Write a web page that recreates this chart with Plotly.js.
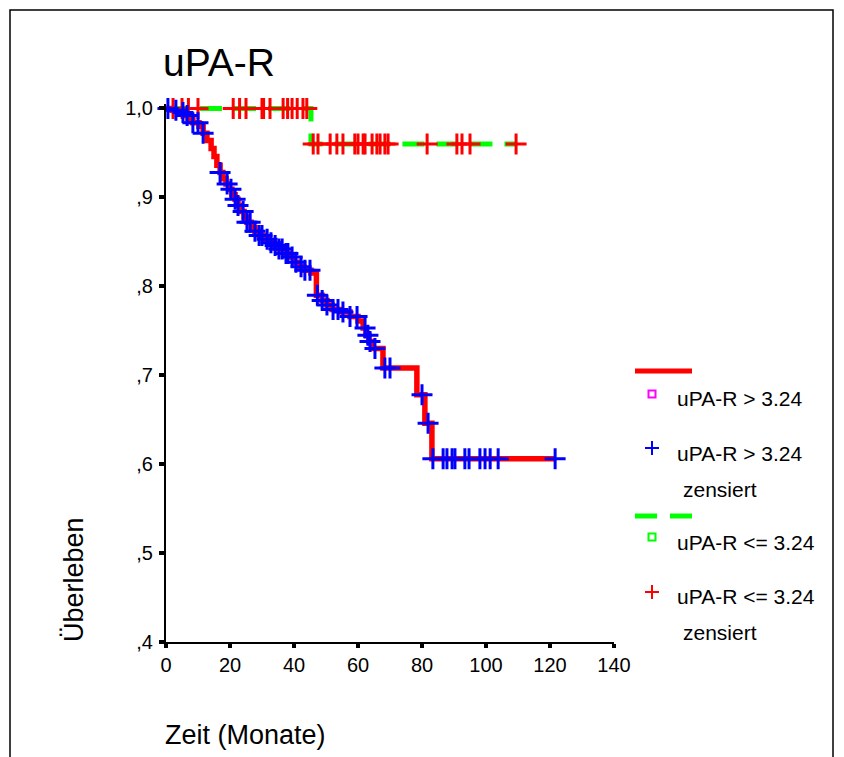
<!DOCTYPE html>
<html>
<head>
<meta charset="utf-8">
<script src="https://cdn.plot.ly/plotly-3.0.1.min.js"></script>
<style>html,body{margin:0;padding:0;background:#fff;}#chart{width:844px;height:757px;}</style>
</head>
<body>
<div id="chart"></div>
<script>
// ---- Data ----
// Group "uPA-R > 3.24": Kaplan-Meier step times (months) and survival after each step
var highTimes = [0, 1.9, 3.75, 5.6, 6.9, 8.4, 10.3, 11.6, 12.8, 14.1, 15, 15.9, 16.9, 17.8, 18.75, 19.7, 20.6, 21.6, 22.5, 23.4, 24.4, 25.3, 26.6, 27.8, 29.1, 30.6, 32.2, 33.75, 35.3, 36.9, 38.4, 40, 41.6, 43.1, 45.3, 47, 48.75, 50.3, 51.9, 54.4, 57.5, 60, 61.6, 62.5, 63.4, 64.4, 67.8, 78.4, 80.9, 83.1];
var highSurv  = [1.0, 0.998, 0.9955, 0.992, 0.988, 0.984, 0.980, 0.972, 0.964, 0.955, 0.946, 0.936, 0.928, 0.921, 0.915, 0.909, 0.903, 0.898, 0.891, 0.884, 0.878, 0.872, 0.866, 0.862, 0.857, 0.853, 0.849, 0.846, 0.842, 0.837, 0.833, 0.827, 0.822, 0.818, 0.815, 0.790, 0.784, 0.779, 0.774, 0.771, 0.766, 0.761, 0.753, 0.745, 0.738, 0.730, 0.708, 0.678, 0.646, 0.606];
var highEnd = 121.6;
var highCensored = [0.6, 3.1, 5.3, 6.6, 8.4, 10, 11.6, 16.9, 19.1, 20.3, 21.6, 22.5, 24.1, 25.3, 26.3, 27.8, 29.1, 30, 31.6, 32.8, 34.1, 35.3, 36.3, 37.5, 38.1, 39.4, 40.6, 42.2, 43.4, 45, 47.3, 48.8, 50.3, 52.2, 53.75, 55.3, 57.5, 59.7, 62.2, 63.1, 63.75, 65.3, 68.4, 70, 80, 81.9, 83.4, 86.6, 87.8, 89.4, 90.3, 93.4, 94.7, 98.1, 99.7, 101.3, 103.8, 121.6];

// Group "uPA-R <= 3.24"
var lowTimes = [0, 45.3];
var lowSurv  = [1.0, 0.96];
var lowEnd = 109.4;
var lowCensored = [2.2, 5, 7, 10, 21, 23, 25, 30, 30.5, 32.5, 36.6, 38, 39.4, 41, 42.8, 44, 46, 47.5, 51.3, 53.4, 55.3, 59, 60, 61.6, 62.2, 64.4, 65.9, 66.9, 68.4, 69.4, 81.6, 90.9, 92.5, 95, 109.4];

// Axis ticks
var xTickVals = [0, 20, 40, 60, 80, 100, 120, 140];
var yTickVals = [1.0, 0.9, 0.8, 0.7, 0.6, 0.5, 0.4];
var yTickText = ["1,0", ",9", ",8", ",7", ",6", ",5", ",4"];

// Texts
var chartTitle = "uPA-R";
var xTitle = "Zeit (Monate)";
var yTitle = "Überleben";
var legendLabels = ["uPA-R > 3.24", "uPA-R > 3.24", "zensiert", "uPA-R <= 3.24", "uPA-R <= 3.24", "zensiert"];

// ---- Helpers ----
function stepLine(times, surv, end) {
  var x = times.slice(); var y = surv.slice();
  x.push(end); y.push(surv[surv.length - 1]);
  return {x: x, y: y};
}
function survAt(times, surv, t) {
  var v = surv[0];
  for (var i = 0; i < times.length; i++) { if (times[i] <= t) v = surv[i]; }
  return v;
}

var FONT = "Liberation Sans, Arial, Helvetica, sans-serif";
var W = 844, H = 757;
var M = {l: 166, r: 230, t: 104, b: 115};
var PW = W - M.l - M.r, PH = H - M.t - M.b;
function px(xp) { return (xp - M.l) / PW; }
function py(yp) { return (H - M.b - yp) / PH; }

var hi = stepLine(highTimes, highSurv, highEnd);
var lo = stepLine(lowTimes, lowSurv, lowEnd);

var traces = [
  {x: lo.x, y: lo.y, mode: 'lines', line: {shape: 'hv', color: '#00ff00', width: 5, dash: '22px,12px'}, showlegend: false, hoverinfo: 'skip'},
  {x: lowCensored, y: lowCensored.map(function(t){return survAt(lowTimes, lowSurv, t);}), mode: 'markers', cliponaxis: false,
   marker: {symbol: 'cross-thin-open', size: 15, color: '#ff0000', line: {color: '#ff0000', width: 3}}, showlegend: false, hoverinfo: 'skip'},
  {x: hi.x, y: hi.y, mode: 'lines', line: {shape: 'hv', color: '#ff0000', width: 5.5}, showlegend: false, hoverinfo: 'skip'},
  {x: highCensored, y: highCensored.map(function(t){return survAt(highTimes, highSurv, t);}), mode: 'markers', cliponaxis: false,
   marker: {symbol: 'cross-thin-open', size: 15, color: '#0000ff', line: {color: '#0000ff', width: 3}}, showlegend: false, hoverinfo: 'skip'}
];

function hline(x0, x1, y, color, width) {
  return {type: 'line', xref: 'paper', yref: 'paper', x0: px(x0), x1: px(x1), y0: py(y), y1: py(y), line: {color: color, width: width}};
}
function vline(x, y0, y1, color, width) {
  return {type: 'line', xref: 'paper', yref: 'paper', x0: px(x), x1: px(x), y0: py(y0), y1: py(y1), line: {color: color, width: width}};
}
function sq(cx, cy, s, color) {
  return {type: 'rect', xref: 'paper', yref: 'paper', x0: px(cx - s/2), x1: px(cx + s/2), y0: py(cy + s/2), y1: py(cy - s/2), line: {color: color, width: 2}};
}

var shapes = [
  // outer frame
  {type: 'rect', xref: 'paper', yref: 'paper', x0: px(10), x1: px(833), y0: py(770), y1: py(10), line: {color: '#000', width: 1.5}},
  // legend symbols
  hline(635, 692, 371, '#ff0000', 5),
  sq(652, 394, 7, '#ff00ff'),
  hline(645, 659, 448, '#0000ff', 2), vline(652, 441, 455, '#0000ff', 2),
  hline(635, 657, 516, '#00ff00', 5), hline(670, 692, 516, '#00ff00', 5),
  sq(652, 537, 7, '#00ff00'),
  hline(645, 659, 592, '#ff0000', 2), vline(652, 585, 599, '#ff0000', 2)
];

function ann(text, xp, yp, size, extra) {
  var a = {text: text, xref: 'paper', yref: 'paper', x: px(xp), y: py(yp), xanchor: 'left', yanchor: 'middle', showarrow: false, font: {family: FONT, size: size, color: '#000'}};
  for (var k in extra) a[k] = extra[k];
  return a;
}
var legendPos = [[675, 398], [675, 453], [681, 489], [675, 542], [675, 596], [681, 632]];
var annotations = legendLabels.map(function(t, i){ return ann(t, legendPos[i][0], legendPos[i][1], 21); });
annotations.push(ann(xTitle, 163, 735, 27));
annotations.push(ann(yTitle, 74, 580, 27, {textangle: -90, xanchor: 'center'}));

var layout = {
  width: W, height: H,
  margin: M,
  paper_bgcolor: '#fff', plot_bgcolor: '#fff',
  showlegend: false,
  title: {text: chartTitle, x: 163 / W, xanchor: 'left', y: 1 - 62 / H, yanchor: 'middle', font: {family: FONT, size: 39, color: '#000'}},
  xaxis: {range: [0, 140], tickvals: xTickVals, ticktext: xTickVals.map(String), showgrid: false, zeroline: false,
          showline: true, linecolor: '#000', linewidth: 2, ticks: 'outside', ticklen: 4, tickwidth: 4, tickcolor: '#000',
          tickfont: {family: FONT, size: 20, color: '#000'}, fixedrange: true},
  yaxis: {range: [0.4, 1.005], tickvals: yTickVals, ticktext: yTickText, showgrid: false, zeroline: false,
          showline: true, linecolor: '#000', linewidth: 2, ticks: 'outside', ticklen: 5, tickwidth: 4, tickcolor: '#000',
          ticklabelstandoff: 2, tickfont: {family: FONT, size: 20, color: '#000'}, fixedrange: true},
  shapes: shapes,
  annotations: annotations
};

Plotly.newPlot('chart', traces, layout, {displayModeBar: false, staticPlot: true});
</script>
</body>
</html>
